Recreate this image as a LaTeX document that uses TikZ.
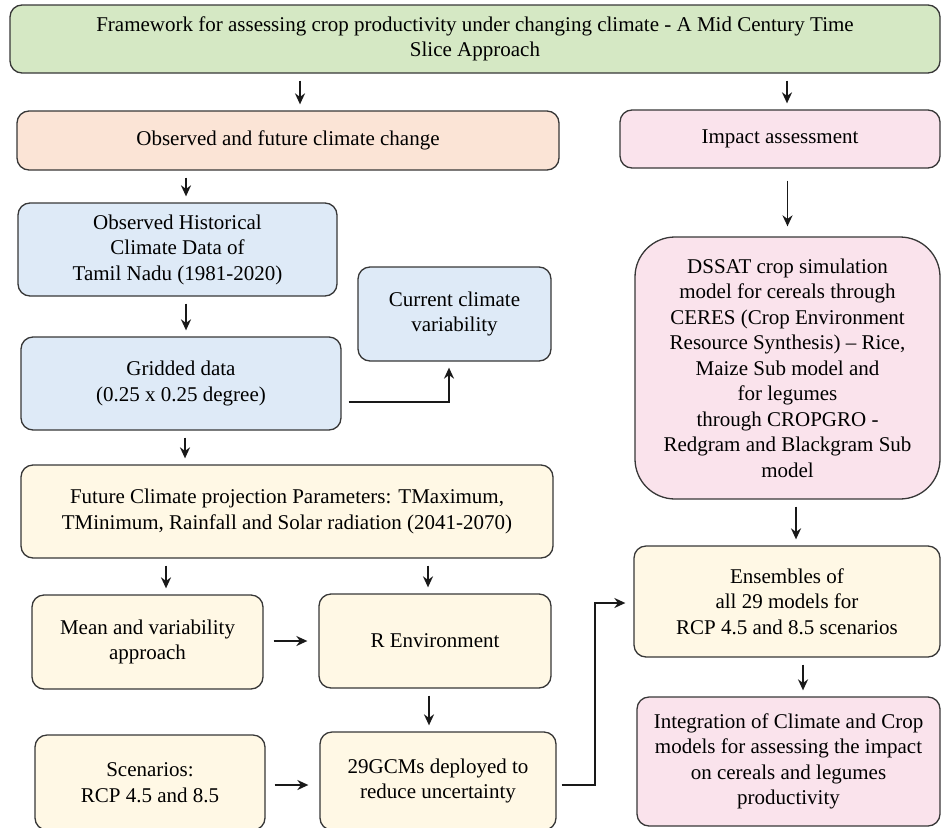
\documentclass[tikz,border=0pt]{standalone}
\usepackage{fontspec}
\setmainfont{Liberation Serif}
\usetikzlibrary{arrows.meta}

\definecolor{titlegreen}{RGB}{213,232,196}
\definecolor{climpeach}{RGB}{251,228,214}
\definecolor{impactpink}{RGB}{250,227,236}
\definecolor{datablue}{RGB}{222,234,247}
\definecolor{futureyellow}{RGB}{255,248,229}
\definecolor{boxline}{RGB}{55,55,55}

\begin{document}
\begin{tikzpicture}[
    x=1pt, y=-1pt,
    font=\fontsize{21}{25.5}\selectfont,
    arrow/.style ={draw, line width=1.9pt, black!90, -{Stealth[length=11pt,width=10pt]}, shorten <=7pt, shorten >=6pt},
    block/.style = {rectangle, rounded corners=12pt, inner sep=0pt, align=center, draw=boxline, line width=1.3pt},
    titlebox/.style = {block, fill=titlegreen},
    climbox/.style = {block, fill=climpeach},
    impactbox/.style = {block, fill=impactpink},
    databox/.style = {block, fill=datablue},
    futurebox/.style = {block, fill=futureyellow}
  ]
  \useasboundingbox (0,0) rectangle (941,827);

  \node (top) [titlebox, minimum width=930, minimum height=68] at (475,39) {
    Framework for assessing crop productivity under changing climate - A Mid Century Time\\Slice Approach
  };
  \node (obs) [climbox, minimum width=542, minimum height=59] at (288,140.5) {Observed and future climate change};
  \node (impact) [impactbox, minimum width=320, minimum height=58] at (780,139) {Impact assessment};

  \node (hist) [databox, minimum width=319, minimum height=93] at (177.5,249.5) {
    Observed Historical\\Climate Data of\\Tamil Nadu (1981-2020)
  };
  \node (grid) [databox, minimum width=320, minimum height=93] at (181,383.5) {
    Gridded data\\(0.25 x 0.25 degree)
  };
  \node (current) [databox, minimum width=193, minimum height=94] at (454.5,314) {
    Current climate\\variability
  };

  \node (future) [futurebox, minimum width=532, minimum height=93] at (287,511.5) {
    Future Climate projection Parameters: TMaximum,\\TMinimum, Rainfall and Solar radiation (2041-2070)
  };
  \node (mean) [futurebox, minimum width=231, minimum height=94] at (147.5,642) {
    Mean and variability\\approach
  };
  \node (renv) [futurebox, minimum width=232, minimum height=94] at (435,641) {R Environment};
  \node (scen) [futurebox, minimum width=230, minimum height=95] at (150,782.5) {
    Scenarios:\\RCP 4.5 and 8.5
  };
  \node (gcm) [futurebox, minimum width=236, minimum height=98] at (438,781) {
    29GCMs deployed to\\reduce uncertainty
  };

  \node (dssat) [impactbox, rounded corners=40pt, minimum width=305, minimum height=262] at (787.5,368) {
    DSSAT crop simulation\\model for cereals through\\CERES (Crop Environment\\Resource Synthesis) -- Rice,\\Maize Sub model and\\for legumes\\through CROPGRO -\\Redgram and Blackgram Sub\\model
  };
  \node (ens) [futurebox, minimum width=306, minimum height=111] at (787,601.5) {
    Ensembles of\\all 29 models for\\RCP 4.5 and 8.5 scenarios
  };
  \node (integ) [impactbox, minimum width=303, minimum height=129] at (788.5,761.5) {
    Integration of Climate and Crop\\models for assessing the impact\\on cereals and legumes\\productivity
  };

  \begin{scope}[every path/.style=arrow]
    \path ([xshift=12]obs.north |- top.south) -- ([xshift=12]obs.north);
    \path ([xshift=7]impact.north |- top.south) -- ([xshift=7]impact.north);
    \path ([xshift=8.5]hist.north |- obs.south) -- ([xshift=8.5]hist.north);
    \path ([xshift=5]grid.north |- hist.south) -- ([xshift=5]grid.north);
    \path ([xshift=4]grid.south) -- ([xshift=4]grid.south |- future.north);
    \path ([yshift=-18.5]grid.east) -| ([xshift=-5.5]current.south);
    \path [shorten <=12pt, shorten >=10pt] (dssat.north |- impact.south) -- (dssat.north);
    \path ([xshift=18.5]mean.north |- future.south) -- ([xshift=18.5]mean.north);
    \path ([xshift=-7]renv.north |- future.south) -- ([xshift=-7]renv.north);
    \path [shorten <=10pt, shorten >=11pt] ([yshift=1]mean.east) -- ([yshift=1]mean.east -| renv.west);
    \path ([xshift=-9]gcm.north |- renv.south) -- ([xshift=-9]gcm.north);
    \path [shorten <=9pt, shorten >=11pt] ([yshift=-2.5]scen.east) -- ([yshift=-2.5]scen.east -| gcm.west);
    \path [shorten <=5pt, shorten >=8pt] ([yshift=-4]gcm.east) -- ++(38,0) |- ([yshift=-1.5]ens.west);
    \path ([xshift=9]ens.north |- dssat.south) -- ([xshift=9]ens.north);
    \path ([xshift=14.5]integ.north |- ens.south) -- ([xshift=14.5]integ.north);
  \end{scope}
\end{tikzpicture}
\end{document}
